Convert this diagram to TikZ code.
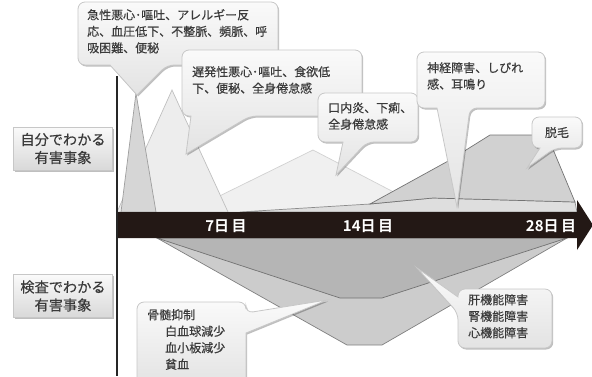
\documentclass[tikz,border=0pt]{standalone}
\usepackage{fontspec}
\setmainfont{Noto Sans CJK JP}
\newfontfamily\cjk[FakeBold=0.35]{Noto Sans CJK JP}
\newfontfamily\cjkb[BoldFont={* Bold}]{Noto Sans CJK JP}
\usetikzlibrary{shadows}
\definecolor{barc}{HTML}{231815}
\definecolor{txt}{HTML}{3a3a3a}
\begin{document}
\begin{tikzpicture}[x=1pt,y=-1pt,
  callout/.style={draw=black!22, line width=0.8pt, top color=black!2, bottom color=black!11,
    drop shadow={shadow xshift=1.2pt, shadow yshift=-1.5pt, opacity=0.25, fill=black}},
  ctext/.style={font=\cjk\fontsize{12}{16.5}\selectfont, text=txt, align=left, anchor=north west, inner sep=0pt},
  lbox/.style={draw=black!22, line width=0.8pt, top color=black!2, bottom color=black!15,
    drop shadow={shadow xshift=1.2pt, shadow yshift=-1.5pt, opacity=0.25, fill=black},
    minimum width=99pt, minimum height=43pt, align=center, text=txt,
    font=\cjk\fontsize{14.2}{18}\selectfont, inner sep=0pt},
  daylab/.style={text=white, font=\cjkb\bfseries\fontsize{15}{16}\selectfont, inner sep=0pt},
  shp/.style={line width=0.7pt}
]
\useasboundingbox (0,0) rectangle (592,376);

% ---------- upper (self-noticed) shapes ----------
\path[shp, fill=black!6, draw=black!18] (187,212) -- (313,150) -- (432,212) -- cycle;
\path[shp, fill=black!13, draw=black!45] (240,212) -- (370,204) -- (433,198) -- (575,202) -- (577,212) -- cycle;
\path[shp, fill=black!18, draw=black!55] (370,204) -- (450,160) -- (490,135) -- (547,135) -- (575,202) -- (433,198) -- cycle;
\path[shp, fill=black!7, draw=black!25] (117,212) -- (172,90) -- (228,212) -- cycle;
\path[shp, fill=black!16, draw=black!38] (121,212) -- (136,93) -- (156,212) -- cycle;

% ---------- lower (lab-detected) shapes ----------
\path[shp, fill=black!20, draw=black!50] (157,238) -- (347,345) -- (382,345) -- (567,238) -- cycle;
\path[shp, fill=black!29, draw=black!55] (157,238) -- (340,298) -- (382,298) -- (567,238) -- cycle;

% ---------- time arrow ----------
\path[fill=barc] (117,212) -- (577,212) -- (577,200) -- (593,225) -- (577,250) -- (577,238) -- (117,238) -- cycle;
\node[daylab] (d7) at (226,226.5) {7日\,目};
\node[daylab] (d14) at (368,226.5) {14日\,目};
\node[daylab] (d28) at (551,226.5) {28日\,目};

% vertical axis
\coordinate (ax1) at (117,76);
\coordinate (ax2) at (117,376);
\draw[line width=1.8pt, black!85] (ax1) -- (ax2);

% ---------- left labels ----------
\node[lbox] (self) at (63,148.5) {自分でわかる\\有害事象};
\node[lbox] (lab) at (63,296) {検査でわかる\\有害事象};

% ---------- callouts ----------
\path[callout] (178,2) [rounded corners=7pt] -- (278,2) -- (278,65) -- (167,65) [sharp corners] -- (137,95) -- (110,65) [rounded corners=7pt] -- (78,65) -- (78,2) -- cycle;
\node[ctext] (c1) at (87,9) {急性悪心･嘔吐、アレルギー反\\応、血圧低下、不整脈、頻脈、呼\\吸困難、便秘};

\path[callout] (272,50) [rounded corners=7pt] -- (362,50) -- (362,116) -- (250,116) [sharp corners] -- (186,154) -- (191,116) [rounded corners=7pt] -- (182,116) -- (182,50) -- cycle;
\node[ctext] (c2) at (192,66) {遅発性悪心･嘔吐、食欲低\\下、便秘、全身倦怠感};

\path[callout] (368,93) [rounded corners=7pt] -- (418,93) -- (418,142) -- (367,142) [sharp corners] -- (336,175) -- (343,142) [rounded corners=7pt] -- (318,142) -- (318,93) -- cycle;
\node[ctext] (c3) at (328,102) {口内炎、下痢、\\全身倦怠感};

\path[callout] (480,52) [rounded corners=7pt] -- (545,52) -- (545,108) -- (470,108) [sharp corners] -- (457,207) -- (437,108) [rounded corners=7pt] -- (417,108) -- (417,52) -- cycle;
\node[ctext] (c4) at (427,62) {神経障害、しびれ\\感、耳鳴り};

\path[callout] (557,117) [rounded corners=7pt] -- (582,117) -- (582,148) -- (555,148) [sharp corners] -- (527,168) -- (540,148) [rounded corners=7pt] -- (532,148) -- (532,117) -- cycle;
\node[ctext, anchor=center] (c5) at (557,132.5) {脱毛};

\path[callout] (190,302) [rounded corners=7pt] -- (246,302) -- (246,313) [sharp corners] -- (327,300) -- (246,333) [rounded corners=7pt] -- (246,386) -- (137,386) -- (137,302) -- cycle;
\node[ctext] (c6) at (147,309) {骨髄抑制\\\hspace{1.5em}白血球減少\\\hspace{1.5em}血小板減少\\\hspace{1.5em}貧血};

\path[callout] (505,289) [rounded corners=7pt] -- (552,289) -- (552,348) -- (458,348) -- (458,313) [sharp corners] -- (417,268) -- (458,297) [rounded corners=7pt] -- (458,289) -- cycle;
\node[ctext] (c7) at (468,294) {肝機能障害\\腎機能障害\\心機能障害};
\end{tikzpicture}
\end{document}
